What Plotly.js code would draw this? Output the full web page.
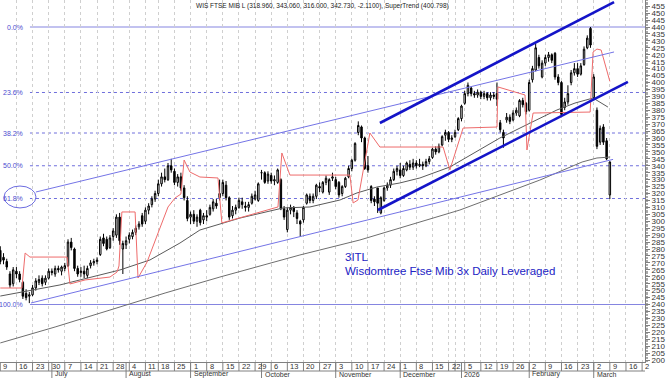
<!DOCTYPE html>
<html><head><meta charset="utf-8">
<script src="https://cdn.plot.ly/plotly-3.0.1.min.js"></script>
<style>html,body{margin:0;padding:0;background:#fff}#chart{width:672px;height:378px}</style>
</head><body><div id="chart"></div>
<script>
// ---- calendar (Borsa Italiana trading days) ----
const marketHolidays = ['2025-08-15','2025-12-24','2025-12-25','2025-12-26','2025-12-31','2026-01-01'];
const monthLabels = {'2025-07':'July','2025-08':'August','2025-09':'September','2025-10':'October','2025-11':'November','2025-12':'December','2026-01':'2026','2026-02':'February','2026-03':'March'};
const hiddenWeekLabels = ['2025-12-29'];

// ---- OHLC (one per trading day from 9 June 2025) ----
const open = [279,274,271,262,255,264,262,256,248,246, 247,252,256,259,256,259,264,262,266,264, 266,268,285,280,266,263,264,261,268,270, 271,276,288,287,281,289,290,303,280,283,
 287,289,292,296,304,300,308,312,316,320, 327,332,330,340,336,328,332,324,315,303, 305,300,308,301,304,305,309,313,317,320, 326,317,304,308,310,314,311,310,313,316,
 315,335,335,329,333,329,328,330,309,294, 308,310,306,300,301,313,318,315,318,325, 321,328,321,331,330,328,320,325,332,338, 344,364,368,360,340,325,316,324,306,315,
 324,326,330,336,337,333,337,341,339,342, 340,341,340,343,346,352,350,355,362,364, 359,361,366,374,385,392,396,392,391,393, 390,392,389,391,392,371,364,373,375,373,
 378,376,387,385,380,402,409,418,404,414, 418,420,421,404,400,382,386,400,407,410, 406,413,425,439,389,380,357,368,358,318.96];
const high = [282,277,273,264,267,267,264,257,251,249, 254,259,261,261,261,266,266,268,268,268, 270,287,288,281,268,267,268,268,272,273, 274,289,291,289,290,295,305,306,286,289,
 292,294,297,300,306,310,313,318,322,330, 335,338,342,345,338,334,335,326,318,307, 308,305,309,306,308,312,316,316,330,330, 329,318,311,312,317,317,314,314,320,322,
 328,337,336,336,335,333,338,331,311,310, 312,311,308,301,311,320,320,320,327,328, 329,333,331,335,332,329,326,332,340,345, 357,372,369,361,347,326,318,324,318,325,
 328,332,338,340,342,340,343,344,345,344, 345,343,345,347,353,354,356,362,366,365, 362,366,375,384,394,400,397,394,395,394, 394,393,393,393,400,373,366,378,377,380,
 382,388,389,386,402,412,428,420,416,420, 422,421,422,406,401,389,398,409,414,414, 414,426,434,440,406,382,369,370,360,343.06];
const low = [269,269,265,252,253,259,256,244,243,241, 246,250,254,253,254,258,261,260,263,261, 264,267,279,264,260,260,259,259,266,268, 269,275,282,279,280,286,288,283,262,280,
 284,287,290,294,296,298,305,310,314,318, 325,328,329,335,326,325,322,315,300,298, 298,296,297,298,300,304,307,309,315,318, 315,301,302,305,309,309,307,307,312,315,
 314,330,327,327,327,326,327,308,301,292, 305,303,298,289,299,312,313,313,316,321, 320,326,319,329,323,317,318,324,331,336, 343,362,357,337,335,313,311,306,305,314,
 322,324,329,333,331,332,336,337,337,338, 339,337,339,341,345,348,349,354,358,357, 357,360,365,372,384,390,390,389,389,388, 388,387,387,388,383,364,353,371,370,372,
 376,375,382,377,379,400,408,410,403,412, 415,414,402,398,375,380,384,398,405,404, 405,412,424,425,388,352,355,355,344,316];
const close = [271,272,267,254,265,262,258,246,245,247, 252,257,258,255,259,264,263,266,265,267, 268,285,281,266,262,264,262,266,270,271, 272,287,284,280,288,293,303,286,284,286,
 290,292,295,298,298,308,311,316,320,327, 332,330,340,337,328,332,324,317,302,305, 300,303,299,304,303,310,314,311,320,328, 317,303,308,310,315,312,310,312,318,319,
 327,335,328,334,329,330,337,309,303,308, 310,307,302,298,310,319,315,318,326,324, 328,331,330,332,325,319,325,331,338,344, 356,369,360,338,337,315,314,313,317,324,
 326,330,336,338,333,338,342,339,342,340, 341,340,343,345,352,350,354,361,364,359, 360,364,374,383,392,398,392,391,393,390, 392,389,391,390,388,366,360,375,372,378,
 380,387,384,379,400,410,425,412,414,418, 420,416,404,400,377,386,392,407,410,406, 412,424,432,427,404,354,367,357,345,342.73];

// ---- indicator lines (trading-day index, price) ----
const maShortX = [0,18.5,37.1,46.4,55.7,61.9,74.3,87.7,96,105.3,110.6,116.8,123.9,130.1,139.4,154.9,164.3,172.6,178.2,183.8,188.4];
const maShortY = [246.1,254.1,264.9,272.1,284.3,293.7,302.3,309.6,310.3,315.3,320.4,324.7,327.6,331.2,339.1,360,370.8,380.2,385.2,388.8,382.3];
const maLongX = [0,17,34,51.1,68.1,92.9,111.5,130.1,142.5,154.9,167.3,180.4,185,189.1];
const maLongY = [212.3,223.8,236,248.3,259.8,275.7,286.5,299.5,308.1,318.9,329.7,342.7,345.6,346.3];
const superX = [0,6.7,7.7,9.2,20.7,21.6,26.3,34,36.2,36.8,37.7,41.8,42.7,45.5,49.5,52,54.2,56,57,58.8,61.9,67.5,68.7,86.1,87.3,89.8,108.4,109.4,110.9,114.6,117.7,137.3,139.4,143.5,154,154.3,162.7,163.3,165.2,182.9,183.8,185,186.3,187.2,189];
const superY = [251.9,251.9,277.1,274.2,274.2,254.8,257.7,259.8,263.4,267.8,306.7,306.7,259.1,270.6,295.1,310.3,316.8,319.6,344.1,335.5,331.9,331.2,298.8,310.3,349.2,333.3,333.3,313.2,315.3,363.6,353.5,353.5,337,367.2,367.9,396.8,391,351.4,378,378.7,422,424.1,423.4,416.2,400.8];

// ---- Fibonacci retracement & trend lines ----
const fibHigh = 440, fibLow = 240;
const fibRatios = [0, 0.236, 0.382, 0.5, 0.618, 1];
const fibLabels = ['0.0%','23.6%','38.2%','50.0%','61.8%','100.0%'];
const fibStartIdx = 9.2;
const thinChannel = [[11.07,321.1,190.3,422.0],[9.52,241.1,190.0,344.6]];
const thickChannel = [[117.7,370.8,190.3,458.0],[117.1,308.1,194.6,400.4]];
const titleText = 'WIS FTSE MIB L (318.960, 343.060, 316.000, 342.730, -2.1100), SuperTrend (400.798)';
const noteLines = ['3ITL','Wisdomtree Ftse Mib 3x Daily Leveraged'];

function tradingDays(n){
  const out=[]; let d=new Date(Date.UTC(2025,5,9));
  while(out.length<n){const dow=d.getUTCDay(); const s=d.toISOString().slice(0,10);
    if(dow!==0&&dow!==6&&!marketHolidays.includes(s)) out.push(s);
    d=new Date(d.getTime()+86400000);}
  return out;
}
const days = tradingDays(202);
const idx = open.map((_,i)=>i);
const XMAX = 199.9, XMIN = -0.09;
const PH = 362; // plot height px
const py = px => -px/PH; // paper y below plot

const fontFam = 'Liberation Sans, Arial, sans-serif';
const traces = [
  {type:'candlestick', x:idx, open, high, low, close, hoverinfo:'skip',
   increasing:{line:{color:'#000',width:1}, fillcolor:'#fff'},
   decreasing:{line:{color:'#000',width:1}, fillcolor:'#000'}, whiskerwidth:0},
  {type:'scatter', mode:'lines', x:maLongX, y:maLongY, line:{color:'#6e6e6e',width:1}, hoverinfo:'skip'},
  {type:'scatter', mode:'lines', x:maShortX, y:maShortY, line:{color:'#5a5a5a',width:1}, hoverinfo:'skip'},
  {type:'scatter', mode:'lines', x:superX, y:superY, line:{color:'#ee6b6b',width:1}, hoverinfo:'skip'}
];

const shapes=[], annotations=[];
fibRatios.forEach((r,i)=>{
  const lvl = fibHigh - r*(fibHigh-fibLow);
  const solid = (r===0||r===1);
  shapes.push({type:'line', xref:'x', yref:'y', x0:fibStartIdx, x1:XMAX, y0:lvl, y1:lvl,
    line:{color: solid?'#8585e0':'#6f6fdc', width:1, dash: solid?'solid':'dot'}, layer:'below'});
  annotations.push({xref:'x', yref:'y', x:7.66, y:lvl, text:fibLabels[i], showarrow:false,
    xanchor:'right', yanchor:'middle', font:{family:fontFam,size:7,color:'#4d4dd0'}});
});
shapes.push({type:'circle', xref:'x', yref:'y', x0:1.15, x1:11.07, y0:309.6, y1:325.4, line:{color:'#6c6ce0',width:1}});
thinChannel.forEach(c=>shapes.push({type:'line',xref:'x',yref:'y',x0:c[0],y0:c[1],x1:c[2],y1:c[3],line:{color:'#7474e6',width:1}}));
thickChannel.forEach(c=>shapes.push({type:'line',xref:'x',yref:'y',x0:c[0],y0:c[1],x1:c[2],y1:c[3],line:{color:'#1414c8',width:2.6}}));

// date row
const mondays=[];
days.forEach((d,i)=>{ if(new Date(d+'T00:00:00Z').getUTCDay()===1 && i<XMAX) mondays.push(i); });
shapes.push({type:'line', xref:'paper', yref:'paper', x0:0, x1:1, y0:py(9), y1:py(9), line:{color:'#808080',width:1}});
mondays.forEach(i=>{
  shapes.push({type:'line', xref:'x', yref:'paper', x0:i, x1:i, y0:0, y1:py(9), line:{color:'#808080',width:1}});
  if(!hiddenWeekLabels.includes(days[i])){
    let t = String(parseInt(days[i].slice(8),10));
    if(i>197) t = t.slice(0,1);
    annotations.push({xref:'x', yref:'paper', x:i, y:py(4.5), text:t, showarrow:false, xanchor:'left', yanchor:'middle', xshift:1,
      font:{family:fontFam,size:7.5,color:'#333'}});
  }
});
let prevMonth = days[0].slice(0,7);
days.forEach((d,i)=>{
  const m=d.slice(0,7);
  if(m!==prevMonth && i<XMAX){
    shapes.push({type:'line', xref:'x', yref:'paper', x0:i, x1:i, y0:0, y1:py(17), line:{color:'#808080',width:1}});
    annotations.push({xref:'x', yref:'paper', x:i, y:py(12.3), text:monthLabels[m]||'', showarrow:false, xanchor:'left', yanchor:'middle', xshift:1,
      font:{family:fontFam,size:7,color:'#333'}});
  }
  prevMonth=m;
});

annotations.push({xref:'paper', yref:'paper', x:0.5, y:1-6/PH, text:titleText, showarrow:false, xanchor:'center', yanchor:'middle',
  font:{family:fontFam, size:6.5, color:'#222'}});
annotations.push({xref:'x', yref:'y', x:106.3, y:274.2, text:noteLines[0], showarrow:false, xanchor:'left', yanchor:'middle', font:{family:fontFam,size:11.5,color:'#2323c4'}});
annotations.push({xref:'x', yref:'y', x:106.3, y:264.1, text:noteLines[1], showarrow:false, xanchor:'left', yanchor:'middle', font:{family:fontFam,size:11.5,color:'#2323c4'}});

const layout = {
  width:672, height:378, margin:{l:0,r:27,t:0,b:16,pad:0},
  paper_bgcolor:'#fff', plot_bgcolor:'#fff', showlegend:false, boxgap:0.35,
  xaxis:{type:'linear', range:[XMIN,XMAX], tickvals:mondays, showticklabels:false, ticks:'', showgrid:true,
    gridcolor:'#cfcfcf', griddash:'dot', gridwidth:1, zeroline:false, showline:true, linecolor:'#808080', linewidth:1,
    rangeslider:{visible:false}, fixedrange:true},
  yaxis:{side:'right', range:[198.57,459.46], tick0:0, dtick:5, ticks:'outside', ticklen:4, tickcolor:'#808080',
    showgrid:false, zeroline:false, showline:true, linecolor:'#808080', linewidth:1,
    tickfont:{family:fontFam,size:8,color:'#333'}, minor:{dtick:1, ticks:'outside', ticklen:2, tickcolor:'#a8a8a8'}, fixedrange:true},
  shapes, annotations
};
Plotly.newPlot('chart', traces, layout, {staticPlot:true, displayModeBar:false});
</script></body></html>
